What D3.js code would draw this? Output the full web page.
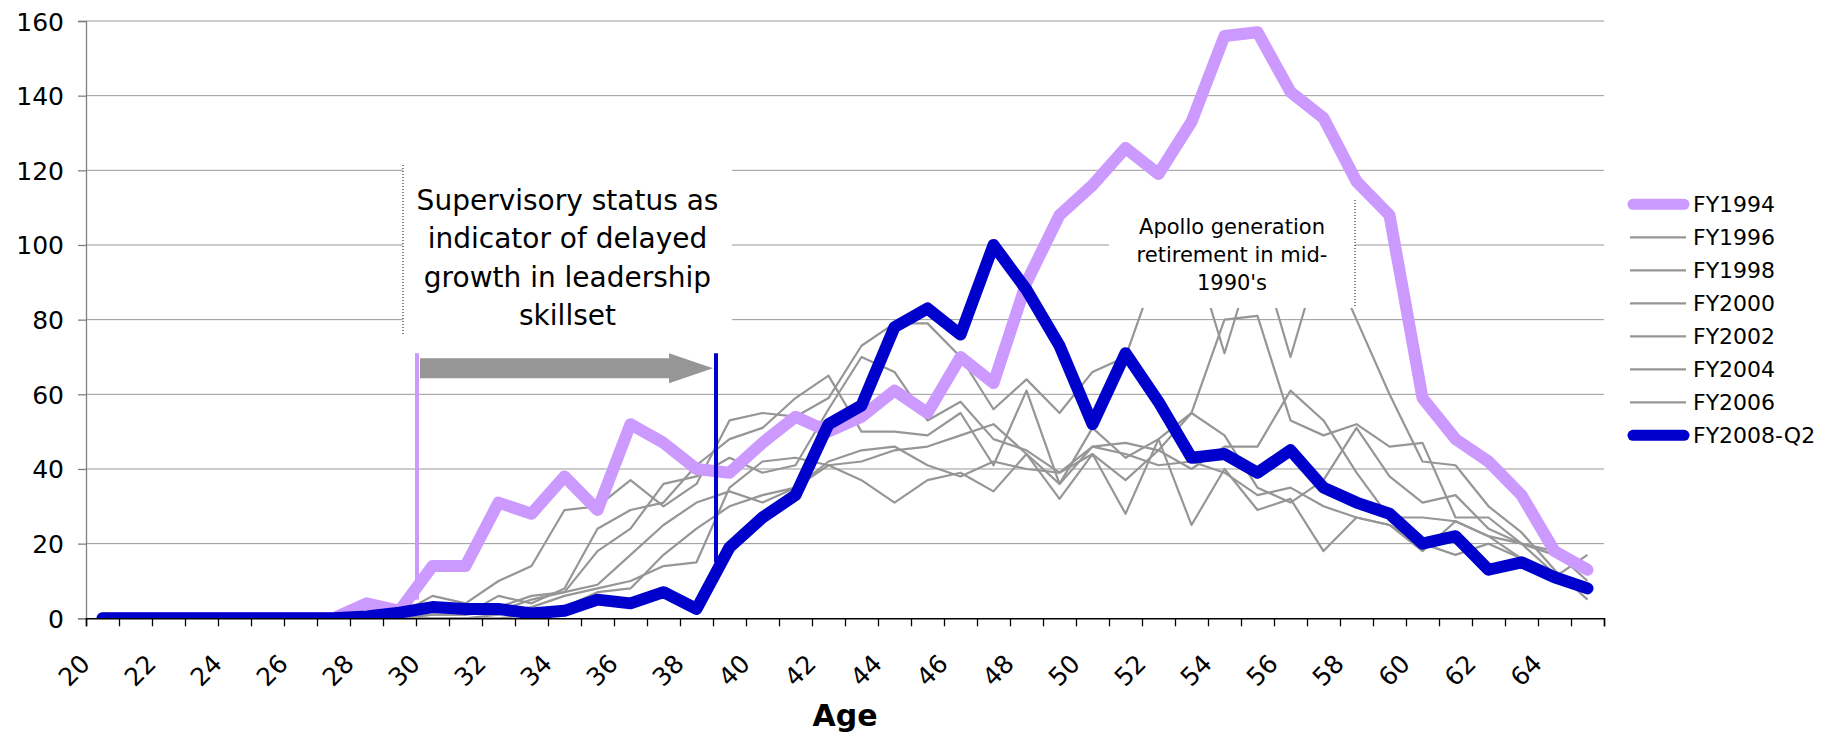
<!DOCTYPE html>
<html>
<head>
<meta charset="utf-8">
<script src="https://d3js.org/d3.v7.min.js"></script>
<style>
  body { margin: 0; background: #fff; }
  svg { display: block; font-family: "DejaVu Sans", Verdana, sans-serif; }
</style>
</head>
<body>
<div id="chart"></div>
<script>
// ages on the category axis
var ages = [20, 21, 22, 23, 24, 25, 26, 27, 28, 29, 30, 31, 32, 33, 34, 35, 36, 37, 38, 39,
  40, 41, 42, 43, 44, 45, 46, 47, 48, 49, 50, 51, 52, 53, 54, 55, 56, 57, 58, 59,
  60, 61, 62, 63, 64, 65];
var ageLabels = [20, 22, 24, 26, 28, 30, 32, 34, 36, 38, 40, 42, 44, 46, 48, 50, 52, 54, 56, 58, 60, 62, 64];
var yTicks = [0, 20, 40, 60, 80, 100, 120, 140, 160];

// headcount by age
var fy1994 = [0, 0, 0, 0, 0, 0, 0, 0, 4, 2, 14, 14, 31, 28, 38, 29, 52, 47, 40, 39,
  47, 54, 50, 54, 61, 55, 70, 63, 90, 108, 116, 126, 119, 133, 156, 157, 141, 134, 117, 108,
  59, 48, 42, 33, 18, 13];
var fy1996 = [0, 0, 0, 0, 0, 0, 0, 0, 1, 1, 6, 4, 10, 14, 29, 30, 37, 30, 36, 53,
  55, 54, 59, 73, 79, 79, 70, 56, 64, 55, 66, 70, 95, 100, 71, 100, 70, 100, 80, 60,
  42, 41, 30, 23, 13, 5];
var fy1998 = [0, 0, 0, 0, 0, 0, 0, 0, 0, 0, 3, 1, 6, 4, 8, 24, 29, 31, 41, 48,
  51, 59, 65, 50, 50, 49, 55, 41, 61, 36, 51, 43, 48, 55, 80, 81, 53, 49, 52, 46,
  47, 27, 27, 20, 12, 9];
var fy2000 = [0, 0, 0, 0, 0, 0, 0, 0, 0, 0, 1, 1, 3, 6, 7, 18, 24, 36, 38, 43,
  39, 41, 56, 70, 66, 53, 58, 48, 45, 39, 46, 47, 45, 40, 46, 46, 61, 53, 39, 27,
  27, 26, 22, 20, 17, 13];
var fy2002 = [0, 0, 0, 0, 0, 0, 0, 0, 0, 0, 1, 1, 2, 5, 7, 9, 17, 25, 31, 34,
  31, 35, 42, 45, 46, 41, 38, 42, 40, 39, 44, 37, 45, 55, 49, 35, 31, 37, 51, 38,
  31, 33, 24, 20, 18, 10];
var fy2004 = [0, 0, 0, 0, 0, 0, 0, 0, 0, 0, 0, 0, 1, 3, 6, 8, 10, 14, 15, 35,
  42, 43, 41, 37, 31, 37, 39, 34, 44, 32, 44, 28, 48, 25, 40, 29, 32, 18, 27, 25,
  18, 26, 22, 16, 11, 17];
var fy2006 = [0, 0, 0, 0, 0, 0, 0, 0, 0, 0, 0, 0, 0, 1, 3, 7, 8, 17, 24, 30,
  33, 35, 41, 42, 45, 46, 49, 52, 44, 36, 46, 44, 41, 42, 39, 33, 35, 30, 27, 25,
  20, 17, 20, 16, 11, 7];
var fy2008 = [0, 0, 0, 0, 0, 0, 0, 0, 0.5, 1.5, 3, 2.5, 2.5, 1.3, 2, 5, 4, 7, 2.5, 19,
  27, 33, 52, 57, 78, 83, 76, 100, 88, 73, 52, 71, 58, 43, 44, 39, 45, 35, 31, 28,
  20, 22, 13, 15, 11, 8];

var series = [
  { name: "FY1994", values: fy1994, color: "#cc99ff", width: 12 },
  { name: "FY1996", values: fy1996, color: "#969696", width: 2.2 },
  { name: "FY1998", values: fy1998, color: "#969696", width: 2.2 },
  { name: "FY2000", values: fy2000, color: "#969696", width: 2.2 },
  { name: "FY2002", values: fy2002, color: "#969696", width: 2.2 },
  { name: "FY2004", values: fy2004, color: "#969696", width: 2.2 },
  { name: "FY2006", values: fy2006, color: "#969696", width: 2.2 },
  { name: "FY2008-Q2", values: fy2008, color: "#0000cc", width: 12 }
];

var W = 1839, H = 737;
var plot = { left: 86, right: 1604, top: 21, bottom: 618.3 };

var svg = d3.select("#chart").append("svg").attr("width", W).attr("height", H);

var x = d3.scaleBand().domain(ages).range([plot.left, plot.right]);
var bw = x.bandwidth();
var xTick = d3.scaleLinear().domain([0, ages.length]).range([plot.left, plot.right]);
var y = d3.scaleLinear().domain([0, 160]).range([plot.bottom, plot.top]);

svg.append("clipPath").attr("id", "plotClip")
  .append("rect")
  .attr("x", plot.left).attr("y", plot.top)
  .attr("width", plot.right - plot.left).attr("height", plot.bottom - plot.top);

// gridlines
svg.append("g")
  .selectAll("line")
  .data(yTicks.filter(function (d) { return d > 0; }))
  .enter()
  .append("line")
  .attr("x1", plot.left).attr("x2", plot.right)
  .attr("y1", function (d) { return y(d); })
  .attr("y2", function (d) { return y(d); })
  .attr("stroke", "#999")
  .attr("stroke-width", 1);

var line = d3.line()
  .x(function (d, i) { return x(ages[i]) + bw / 2; })
  .y(function (d) { return y(d); });

var lines = svg.append("g").attr("clip-path", "url(#plotClip)");

// gray years first
lines.selectAll(".gray")
  .data(series.filter(function (s) { return s.width < 5; }))
  .enter()
  .append("path")
  .attr("class", "gray")
  .attr("d", function (s) { return line(s.values); })
  .attr("fill", "none")
  .attr("stroke", function (s) { return s.color; })
  .attr("stroke-width", function (s) { return s.width; })
  .attr("stroke-linejoin", "round");

// annotation boxes sit over the gridlines and gray lines
function noteBox(x0, y0, x1, y1, side, lineList, cx, y0Text, step, size) {
  var g = svg.append("g");
  g.append("rect")
    .attr("x", x0).attr("y", y0)
    .attr("width", x1 - x0).attr("height", y1 - y0)
    .attr("fill", "#fff");
  var sx = side === "left" ? x0 : x1;
  g.append("line")
    .attr("x1", sx).attr("x2", sx)
    .attr("y1", y0).attr("y2", y1)
    .attr("stroke", "#000")
    .attr("stroke-width", 1)
    .attr("stroke-dasharray", "1,2");
  g.selectAll("text")
    .data(lineList)
    .enter()
    .append("text")
    .attr("x", cx)
    .attr("y", function (d, i) { return y0Text + i * step; })
    .attr("text-anchor", "middle")
    .attr("font-size", size + "px")
    .attr("fill", "#000")
    .text(function (d) { return d; });
}

noteBox(x(30) - 13, 165, x(39) + 19, 335, "left",
  ["Supervisory status as", "indicator of delayed", "growth in leadership", "skillset"],
  567.5, 210, 38.3, 28);
noteBox(x(51), 200, x(58) + 15, 308, "right",
  ["Apollo generation", "retirement in mid-", "1990's"],
  1232, 233.5, 28.2, 21);

// thick series on top
lines.selectAll(".thick")
  .data(series.filter(function (s) { return s.width >= 5; }))
  .enter()
  .append("path")
  .attr("class", "thick")
  .attr("d", function (s) { return line(s.values); })
  .attr("fill", "none")
  .attr("stroke", function (s) { return s.color; })
  .attr("stroke-width", function (s) { return s.width; })
  .attr("stroke-linejoin", "round")
  .attr("stroke-linecap", "round");

// supervisory markers and arrow
svg.append("line")
  .attr("x1", x(30) + 1).attr("x2", x(30) + 1)
  .attr("y1", y(71)).attr("y2", y(5))
  .attr("stroke", "#cc99ff").attr("stroke-width", 4);
svg.append("line")
  .attr("x1", x(39) + 3).attr("x2", x(39) + 3)
  .attr("y1", y(71)).attr("y2", y(15))
  .attr("stroke", "#0000cc").attr("stroke-width", 4);

var ax0 = x(30) + 4, ax1 = x(39), ay = y(67);
svg.append("path")
  .attr("d", "M" + ax0 + "," + (ay - 10) +
    "L" + (ax1 - 44) + "," + (ay - 10) +
    "L" + (ax1 - 44) + "," + (ay - 15) +
    "L" + ax1 + "," + ay +
    "L" + (ax1 - 44) + "," + (ay + 15) +
    "L" + (ax1 - 44) + "," + (ay + 10) +
    "L" + ax0 + "," + (ay + 10) + "Z")
  .attr("fill", "#969696");

// y axis
var yAxis = svg.append("g")
  .attr("transform", "translate(" + plot.left + ",0)")
  .call(d3.axisLeft(y).tickValues(yTicks).tickSize(8).tickPadding(14));
yAxis.select(".domain").attr("stroke", "#808080").attr("stroke-width", 1.3);
yAxis.selectAll(".tick line").attr("stroke", "#808080").attr("stroke-width", 1.3);
yAxis.selectAll("text")
  .attr("font-size", "25px")
  .attr("font-family", "DejaVu Sans, Verdana, sans-serif")
  .attr("fill", "#000")
  .attr("dy", "0.36em");

// x axis: ticks between categories, labels every second age
var xAxis = svg.append("g")
  .attr("transform", "translate(0," + plot.bottom + ")")
  .call(d3.axisBottom(xTick).tickValues(d3.range(ages.length + 1)).tickSize(8).tickFormat(""));
xAxis.select(".domain").attr("stroke", "#000").attr("stroke-width", 1.5);
xAxis.selectAll(".tick line").attr("stroke", "#000").attr("stroke-width", 1.3);

svg.append("g")
  .selectAll("text")
  .data(ageLabels)
  .enter()
  .append("text")
  .attr("transform", function (d) {
    return "translate(" + (x(d) + bw / 2 - 11) + "," + (plot.bottom + 47) + ") rotate(-45)";
  })
  .attr("text-anchor", "end")
  .attr("font-size", "25px")
  .attr("fill", "#000")
  .text(function (d) { return d; });

svg.append("text")
  .attr("x", (plot.left + plot.right) / 2)
  .attr("y", 726)
  .attr("text-anchor", "middle")
  .attr("font-size", "30px")
  .attr("font-weight", "bold")
  .text("Age");

// legend
var legend = svg.append("g")
  .selectAll("g")
  .data(series)
  .enter()
  .append("g")
  .attr("transform", function (d, i) { return "translate(0," + (204.3 + i * 33) + ")"; });

legend.append("line")
  .attr("x1", function (d) { return d.width >= 5 ? 1633 : 1630; })
  .attr("x2", function (d) { return d.width >= 5 ? 1684 : 1686; })
  .attr("stroke", function (d) { return d.color; })
  .attr("stroke-width", function (d) { return d.width >= 5 ? 11 : 2.2; })
  .attr("stroke-linecap", function (d) { return d.width >= 5 ? "round" : "butt"; });

legend.append("text")
  .attr("x", 1693)
  .attr("dy", "0.36em")
  .attr("font-size", "22px")
  .attr("fill", "#000")
  .text(function (d) { return d.name; });
</script>
</body>
</html>
